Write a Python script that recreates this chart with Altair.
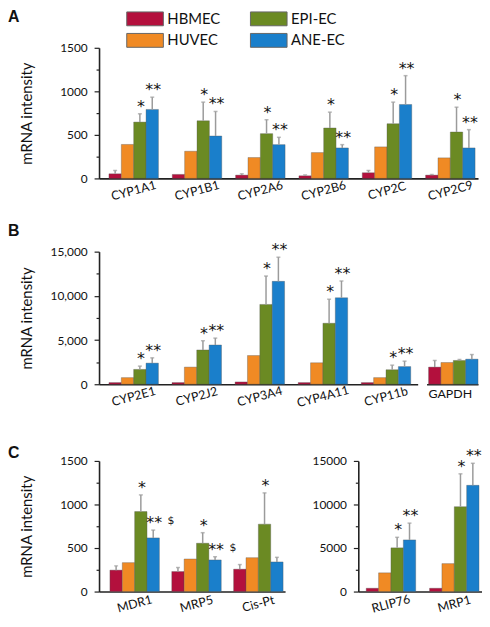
import altair as alt
import pandas as pd

LINES = ["HBMEC", "HUVEC", "EPI-EC", "ANE-EC"]
COLORS = ["#b3103d", "#f08a24", "#6b8a23", "#1a7fcb"]

# ---------------- Panel A ----------------
A_GENES = ["CYP1A1", "CYP1B1", "CYP2A6", "CYP2B6", "CYP2C", "CYP2C9"]
A_HBMEC = [53, 46, 38, 30, 65, 38]
A_HUVEC = [390, 312, 240, 297, 362, 236]
A_EPI = [647, 662, 514, 579, 628, 533]
A_ANE = [792, 487, 388, 350, 849, 350]
A_HBMEC_ERR = [91, None, 53, 40, 91, 45]
A_HUVEC_ERR = [None, None, None, None, None, None]
A_EPI_ERR = [742, 876, 674, 761, 876, 818]
A_ANE_ERR = [933, 769, 472, 388, 1180, 560]
A_EPI_SIG = ["*", "*", "*", "*", "*", "*"]
A_ANE_SIG = ["**", "**", "**", "**", "**", "**"]

# ---------------- Panel B ----------------
B_GENES = ["CYP2E1", "CYP2J2", "CYP3A4", "CYP4A11", "CYP11b"]
B_HBMEC = [190, 190, 260, 190, 190]
B_HUVEC = [750, 1940, 3250, 2430, 750]
B_EPI = [1680, 3880, 9030, 6900, 1640]
B_ANE = [2390, 4440, 11640, 9780, 2000]
B_EPI_ERR = [2050, 4925, 12240, 9620, 2160]
B_ANE_ERR = [2985, 5220, 14370, 11680, 2610]
B_EPI_SIG = ["*", "*", "*", "*", "*"]
B_ANE_SIG = ["**", "**", "**", "**", "**"]

G_GENES = ["GAPDH"]
G_VALUES = [[1940], [2460], [2690], [2840]]
G_ERR = [[2690], [None], [2800], [3360]]

# ---------------- Panel C ----------------
C1_GENES = ["MDR1", "MRP5", "Cis-Pt"]
C1_HBMEC = [246, 230, 257]
C1_HUVEC = [332, 374, 389]
C1_EPI = [918, 555, 774]
C1_ANE = [616, 363, 340]
C1_HBMEC_ERR = [295, 276, 310]
C1_EPI_ERR = [1110, 676, 1133]
C1_ANE_ERR = [706, 400, 393]
C1_EPI_SIG = ["*", "*", "*"]
C1_ANE_SIG = ["**", "**", ""]
C1_ANE_DOLLAR = ["$", "$", ""]

C2_GENES = ["RLIP76", "MRP1"]
C2_HBMEC = [380, 380]
C2_HUVEC = [2150, 3210]
C2_EPI = [5020, 9750]
C2_ANE = [5930, 12200]
C2_EPI_ERR = [6230, 13520]
C2_ANE_ERR = [7860, 14730]
C2_EPI_SIG = ["*", "*"]
C2_ANE_SIG = ["**", "**"]

FONT = "Lato"
AXIS_COLOR = "#222"
INK = "#111"


def long_table(genes, values, errors, marks=None, dollars=None):
    n = len(genes)
    empty = [""] * n
    marks = marks or [empty] * 4
    dollars = dollars or [empty] * 4
    rows = []
    for li, line in enumerate(LINES):
        for gi, gene in enumerate(genes):
            rows.append({"gene": gene, "line": line, "value": values[li][gi],
                         "err": errors[li][gi], "sig": marks[li][gi],
                         "dollar": dollars[li][gi]})
    return pd.DataFrame(rows)


df_a = long_table(A_GENES, [A_HBMEC, A_HUVEC, A_EPI, A_ANE],
                  [A_HBMEC_ERR, A_HUVEC_ERR, A_EPI_ERR, A_ANE_ERR],
                  [[""] * 6, [""] * 6, A_EPI_SIG, A_ANE_SIG])
df_b = long_table(B_GENES, [B_HBMEC, B_HUVEC, B_EPI, B_ANE],
                  [[None] * 5, [None] * 5, B_EPI_ERR, B_ANE_ERR],
                  [[""] * 5, [""] * 5, B_EPI_SIG, B_ANE_SIG])
df_g = long_table(G_GENES, G_VALUES, G_ERR)
df_c1 = long_table(C1_GENES, [C1_HBMEC, C1_HUVEC, C1_EPI, C1_ANE],
                   [C1_HBMEC_ERR, [None] * 3, C1_EPI_ERR, C1_ANE_ERR],
                   [[""] * 3, [""] * 3, C1_EPI_SIG, C1_ANE_SIG],
                   [[""] * 3, [""] * 3, [""] * 3, C1_ANE_DOLLAR])
df_c2 = long_table(C2_GENES, [C2_HBMEC, C2_HUVEC, C2_EPI, C2_ANE],
                   [[None] * 2, [None] * 2, C2_EPI_ERR, C2_ANE_ERR],
                   [[""] * 2, [""] * 2, C2_EPI_SIG, C2_ANE_SIG])


def panel(df, genes, ymax, major, minor, fmt, width, height, band,
          show_y=True, y_title=None, label_angle=-15, label_pad=12,
          legend=None, title=None):
    pi, po, al = band
    xax = alt.Axis(title=None, ticks=False, tickSize=0, labelAngle=label_angle,
                   labelAlign="center", labelBaseline="middle",
                   labelPadding=label_pad, labelFont=FONT, labelFontSize=12.5,
                   labelColor="#111", domainColor=AXIS_COLOR, domainWidth=1.6,
                   labelLimit=200)
    x = alt.X("gene:N", sort=genes,
              scale=alt.Scale(domain=genes, paddingInner=pi, paddingOuter=po, align=al),
              axis=xax)
    xo = alt.XOffset("line:N", sort=LINES,
                     scale=alt.Scale(domain=LINES, paddingInner=0, paddingOuter=0))
    if show_y:
        yax = alt.Axis(
            title=y_title if y_title else None,
            values=list(range(0, ymax + 1, minor)),
            format=fmt,
            labelExpr=f"datum.value % {major} === 0 ? datum.label : ''",
            tickSize=5,
            tickDash={"condition": {"test": f"datum.value % {major} !== 0", "value": [3, 10]},
                      "value": [10, 0]},
            tickColor=AXIS_COLOR, tickWidth=1.2,
            domainColor=AXIS_COLOR, domainWidth=1.6,
            labelFont=FONT, labelFontSize=12, labelColor="#111", labelPadding=7,
            grid=False,
            titleFont=FONT, titleFontSize=15, titleFontWeight="normal",
            titleColor="#111", titleX=-68, titleBaseline="alphabetic",
        )
    else:
        yax = None
    yscale = alt.Scale(domain=[0, ymax], nice=False, zero=True)

    def Y(field):
        return alt.Y(field, scale=yscale, axis=yax,
                     title=y_title if (show_y and y_title) else None)

    base = alt.Chart(df)
    bars = base.mark_bar(stroke="#555", strokeWidth=0.5, strokeOpacity=0.7).encode(
        x=x, xOffset=xo, y=Y("value:Q"),
        color=alt.Color("line:N", scale=alt.Scale(domain=LINES, range=COLORS),
                        legend=legend),
    )
    errs = base.transform_filter("isValid(datum.err)")
    rules = errs.mark_rule(color="#9b9b9b", strokeWidth=1.5).encode(
        x=x, xOffset=xo, y=Y("value:Q"), y2="err:Q")
    caps = errs.mark_tick(color="#9b9b9b", size=4, thickness=1.5, orient="horizontal").encode(
        x=x, xOffset=xo, y=Y("err:Q"))
    stars = errs.transform_filter("datum.sig != ''").mark_text(
        font="DejaVu Sans", fontSize=16, color=INK, fill=INK, opacity=1,
        baseline="alphabetic", align="center", dx=1, dy=-2).encode(
        x=x, xOffset=xo, y=Y("err:Q"), text="sig:N")
    dollars = errs.transform_filter("datum.dollar != ''").mark_text(
        font="DejaVu Sans", fontSize=11, color=INK, fill=INK, opacity=1,
        baseline="alphabetic", align="center", dx=18, dy=-6).encode(
        x=x, xOffset=xo, y=Y("err:Q"), text="dollar:N")

    ch = alt.layer(bars, rules, caps, stars, dollars).properties(width=width, height=height)
    if title is not None:
        ch = ch.properties(title=title)
    return ch


def panel_title(letter, dy):
    return alt.Title(letter, anchor="start", frame="group", dx=-92, dy=dy, offset=0,
                     font="Liberation Sans", fontSize=16, fontWeight="bold",
                     color="#111", baseline="alphabetic")


legend = alt.Legend(
    title=None, orient="none", legendX=39, legendY=-37, columns=2,
    symbolType="M-2.643,-1H2.643V1H-2.643Z", symbolSize=196,
    symbolStrokeColor="#666", symbolStrokeWidth=1, symbolOpacity=1,
    labelFont=FONT, labelFontSize=15, labelColor="#111", labelOffset=15,
    columnPadding=27, rowPadding=3, padding=0,
)

chart_a = panel(df_a, A_GENES, 1500, 500, 250, "d", 383, 132,
                (0.21875, 0.1016, 0.77), y_title="mRNA intensity",
                legend=legend, title=panel_title("A", -4.5))
chart_b = panel(df_b, B_GENES, 15000, 5000, 2500, ",d", 322, 134,
                (0.2157, 0.1333, 0.588), y_title="mRNA intensity",
                title=panel_title("B", 10))
chart_g = panel(df_g, G_GENES, 15000, 5000, 2500, ",d", 52, 134,
                (0.0, 0.0909, 0.25), show_y=False, label_angle=0, label_pad=9)
chart_c1 = panel(df_c1, C1_GENES, 1500, 500, 250, "d", 188, 132,
                 (0.2, 0.104, 0.846), y_title="mRNA intensity",
                 title=panel_title("C", 19.5))
chart_c2 = panel(df_c2, C2_GENES, 15000, 5000, 2500, "d", 125, 132,
                 (0.21875, 0.0859, 0.727))

row_b = alt.hconcat(chart_b, chart_g, spacing=9)
row_c = alt.hconcat(chart_c1, chart_c2, spacing=27)
lower = alt.vconcat(row_b, row_c, spacing=35.5)
chart = alt.vconcat(chart_a, lower, spacing=20).properties(
    padding={"left": 0, "top": -3, "right": 0, "bottom": 0}, background="white"
).configure_view(stroke=None)

chart.save("out.html", embed_options={"renderer": "svg", "actions": False})
